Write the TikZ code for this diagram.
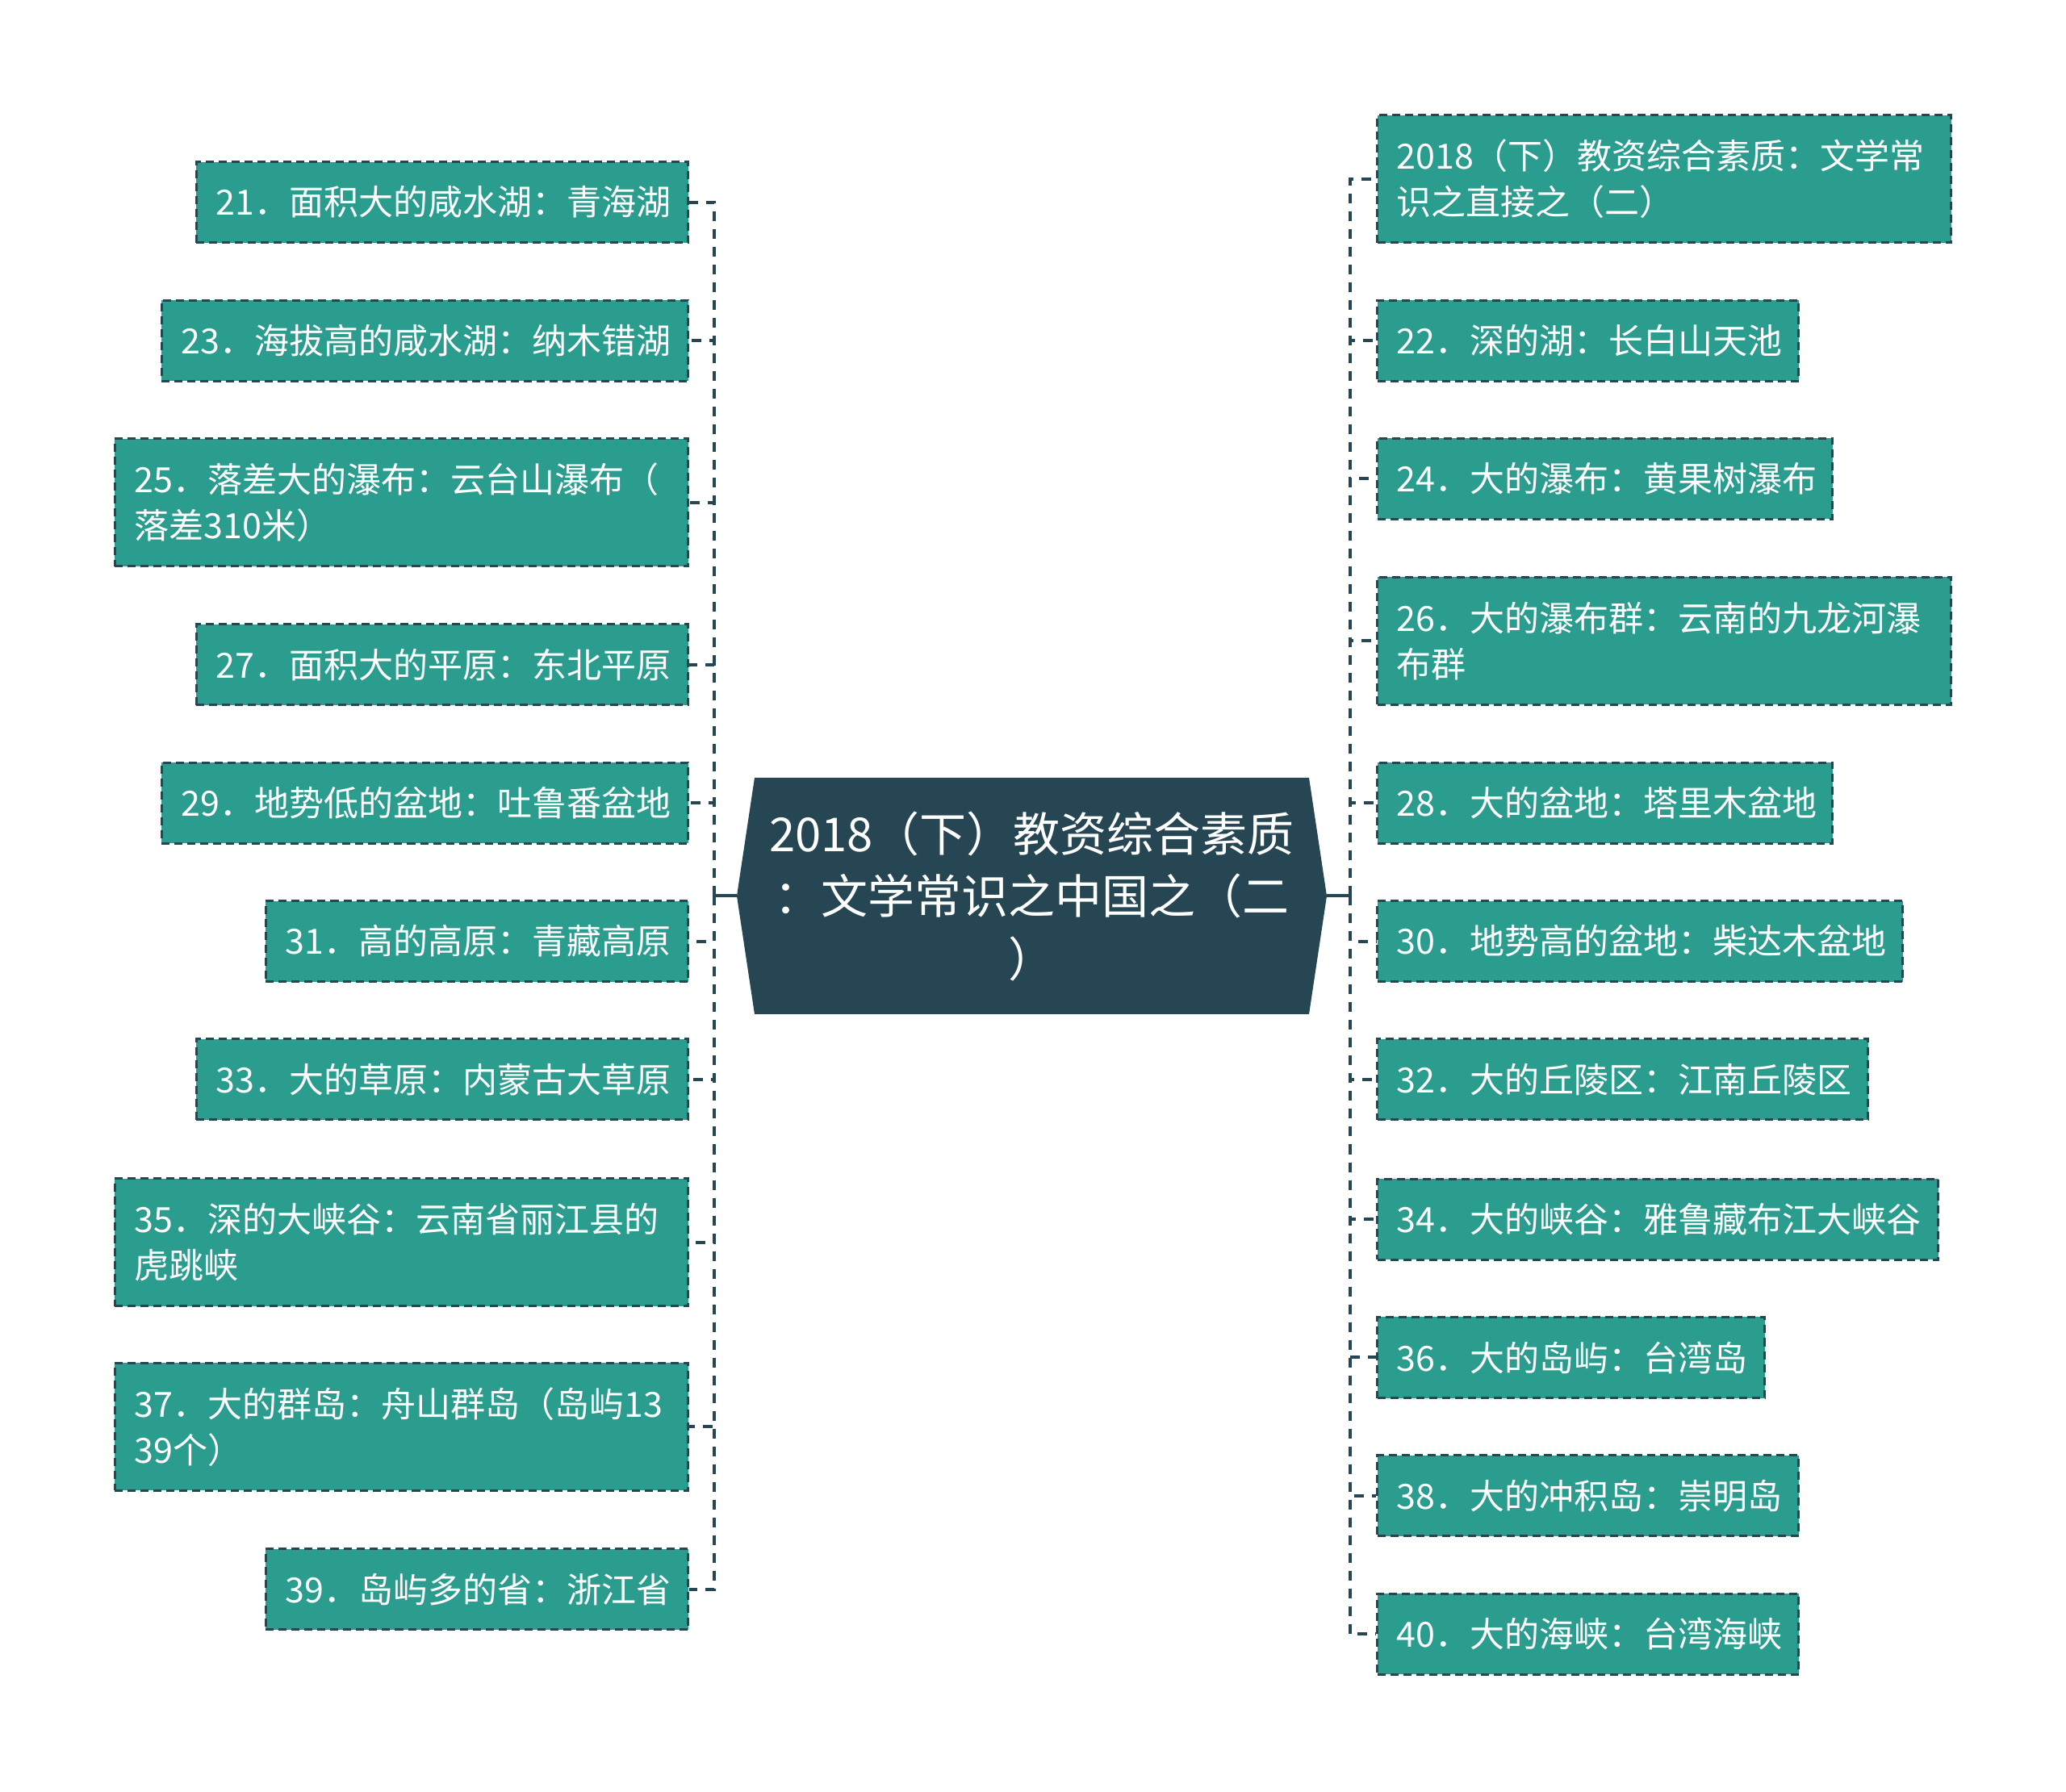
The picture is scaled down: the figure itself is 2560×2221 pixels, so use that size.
\documentclass[tikz,border=0pt]{standalone}
\usepackage{fontspec}
\newfontfamily\cjk{Noto Sans CJK SC}
\usetikzlibrary{backgrounds}
\definecolor{leaffill}{HTML}{2A9D8F}
\definecolor{darkc}{HTML}{264653}
\begin{document}
\begin{tikzpicture}[x=0.2pt,y=-0.2pt,
  leaf/.style={draw=darkc, fill=leaffill, line width=0.6pt, dash pattern=on 2pt off 1.2pt,
    text=white, font=\cjk\fontsize{8.6}{11.4}\selectfont, align=left,
    inner xsep=4.8pt, inner ysep=0pt, minimum height=20pt},
  tall/.style={minimum height=31.6pt},
  rootnode/.style={text=white, font=\cjk\fontsize{11.6}{15.5}\selectfont, align=center,
    inner sep=0pt, text width=137pt, minimum width=137pt, minimum height=58.2pt},
  branch/.style={draw=darkc, line width=0.8pt, dash pattern=on 2.4pt off 2pt},
  stub/.style={draw=darkc, line width=0.8pt}]
\useasboundingbox (0,0) rectangle (2560,2221);

% root
\node[rootnode] (root) at (1278.5,1110.5) {2018（下）教资综合素质\\：文学常识之中国之（二\\）};
\coordinate (rl) at ([xshift=-4.4pt]root.west);
\coordinate (rr) at ([xshift=4.4pt]root.east);
\begin{scope}[on background layer]
\fill[darkc] (root.north west) -- (root.north east) -- (rr) -- (root.south east)
  -- (root.south west) -- (rl) -- cycle;
\end{scope}
\coordinate (lt) at (885,1110.5);
\coordinate (rt) at (1673,1110.5);

% left leaves
\node[leaf, anchor=east, text width=112.2pt] (n21) at (854,250.6) {21．面积大的咸水湖：青海湖};
\node[leaf, anchor=east, text width=120.8pt] (n23) at (854,422.1) {23．海拔高的咸水湖：纳木错湖};
\node[leaf, tall, anchor=east, text width=132.4pt] (n25) at (854,622.9) {25．落差大的瀑布：云台山瀑布（\\落差310米）};
\node[leaf, anchor=east, text width=112.2pt] (n27) at (854,823.7) {27．面积大的平原：东北平原};
\node[leaf, anchor=east, text width=120.8pt] (n29) at (854,995.1) {29．地势低的盆地：吐鲁番盆地};
\node[leaf, anchor=east, text width=95pt] (n31) at (854,1166.6) {31．高的高原：青藏高原};
\node[leaf, anchor=east, text width=112.2pt] (n33) at (854,1338.0) {33．大的草原：内蒙古大草原};
\node[leaf, tall, anchor=east, text width=132.4pt] (n35) at (854,1539.6) {35．深的大峡谷：云南省丽江县的\\虎跳峡};
\node[leaf, tall, anchor=east, text width=132.4pt] (n37) at (854,1768.2) {37．大的群岛：舟山群岛（岛屿13\\39个）};
\node[leaf, anchor=east, text width=95pt] (n39) at (854,1969.9) {39．岛屿多的省：浙江省};

% right leaves
\node[leaf, tall, anchor=west, text width=132.6pt] (r20) at (1705,222.0) {2018（下）教资综合素质：文学常\\识之直接之（二）};
\node[leaf, anchor=west, text width=94.8pt] (r22) at (1705,422.1) {22．深的湖：长白山天池};
\node[leaf, anchor=west, text width=103.2pt] (r24) at (1705,593.5) {24．大的瀑布：黄果树瀑布};
\node[leaf, tall, anchor=west, text width=132.6pt] (r26) at (1705,794.3) {26．大的瀑布群：云南的九龙河瀑\\布群};
\node[leaf, anchor=west, text width=103.2pt] (r28) at (1705,995.1) {28．大的盆地：塔里木盆地};
\node[leaf, anchor=west, text width=120.6pt] (r30) at (1705,1166.6) {30．地势高的盆地：柴达木盆地};
\node[leaf, anchor=west, text width=112.0pt] (r32) at (1705,1338.0) {32．大的丘陵区：江南丘陵区};
\node[leaf, anchor=west, text width=129.4pt] (r34) at (1705,1511.1) {34．大的峡谷：雅鲁藏布江大峡谷};
\node[leaf, anchor=west, text width=86.4pt] (r36) at (1705,1682.5) {36．大的岛屿：台湾岛};
\node[leaf, anchor=west, text width=94.8pt] (r38) at (1705,1853.9) {38．大的冲积岛：崇明岛};
\node[leaf, anchor=west, text width=94.8pt] (r40) at (1705,2025.4) {40．大的海峡：台湾海峡};

% connectors
\draw[stub] (rl) -- (lt);
\draw[stub] (rr) -- (rt);
\foreach \n in {n21,n23,n25,n27,n29,n31,n33,n35,n37,n39}
  \draw[branch] (lt) |- (\n.east);
\foreach \n in {r20,r22,r24,r26,r28,r30,r32,r34,r36,r38,r40}
  \draw[branch] (rt) |- (\n.west);
\end{tikzpicture}
\end{document}
